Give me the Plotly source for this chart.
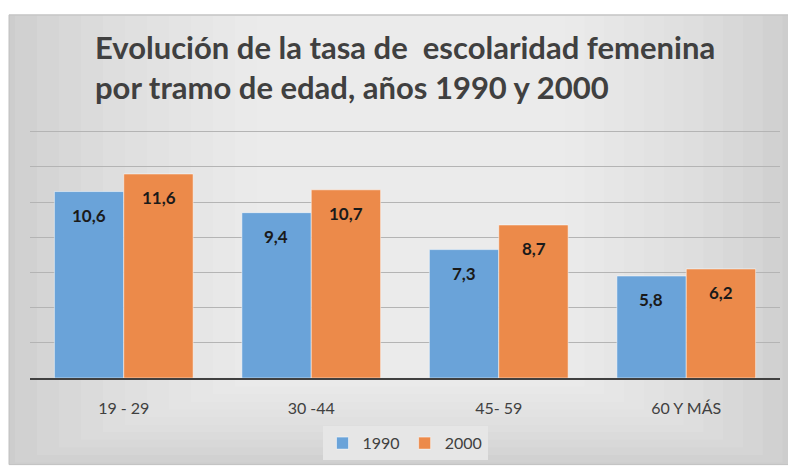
import plotly.graph_objects as go

# Data
categories = ["19 - 29", "30 -44", "45- 59", "60 Y MÁS"]
years = ["1990", "2000"]
tasa_1990 = [10.6, 9.4, 7.3, 5.8]
tasa_2000 = [11.6, 10.7, 8.7, 6.2]

colors = {"1990": "#6aa3d9", "2000": "#ec8a4a"}
series = {"1990": tasa_1990, "2000": tasa_2000}

W, H = 788, 468
L, R, T, B = 30, 8, 130, 86
plot_w = W - L - R
plot_h = H - T - B


def px_x(p):
    return (p - L) / plot_w


def px_y(p):
    return (H - B - p) / plot_h


fig = go.Figure()

for yr in years:
    fig.add_trace(
        go.Bar(
            x=categories,
            y=series[yr],
            name=yr,
            marker=dict(color=colors[yr], line=dict(color="rgba(255,255,255,0.5)", width=1)),
            hoverinfo="x+y",
        )
    )

# value labels inside bars, near the top
annotations = []
for i, yr in enumerate(years):
    shift = -35 if i == 0 else 35
    for cat, v in zip(categories, series[yr]):
        annotations.append(
            dict(
                x=cat,
                y=v,
                xref="x",
                yref="y",
                text=f"{v:.1f}".replace(".", ","),
                showarrow=False,
                xshift=shift,
                yshift=-11,
                yanchor="top",
                font=dict(family="Lato, Open Sans, sans-serif", size=17, color="#1a1a1a", weight="bold"),
            )
        )

# chart area background (soft gradient imitation, lighter at top centre)
shapes = [
    dict(type="rect", xref="paper", yref="paper",
         x0=px_x(9), x1=px_x(790), y0=px_y(470), y1=px_y(13),
         fillcolor="#cdcdcd", line=dict(color="#c0c0c0", width=1), layer="below"),
]
for k in range(12):
    dx = 6 + k * 22
    shapes.append(
        dict(type="rect", xref="paper", yref="paper",
             x0=px_x(9 + dx), x1=px_x(788 - dx * 0.9), y0=px_y(470 - dx * 0.35), y1=px_y(14),
             fillcolor="rgba(255,255,255,0.085)", line=dict(width=0), layer="below")
    )

fig.update_layout(
    width=W,
    height=H,
    margin=dict(l=L, r=R, t=T, b=B),
    paper_bgcolor="white",
    plot_bgcolor="rgba(0,0,0,0)",
    barmode="group",
    bargap=0.26,
    bargroupgap=0.0,
    font=dict(family="Lato, Open Sans, sans-serif", color="#404040"),
    title=dict(
        text="Evolución de la tasa de&nbsp; escolaridad femenina<br>por tramo de edad, años 1990 y 2000",
        x=95 / W,
        xanchor="left",
        y=1 - 59 / H,
        yanchor="top",
        font=dict(family="Lato, Open Sans, sans-serif", size=31, color="#404040", weight="bold"),
    ),
    xaxis=dict(
        showline=True,
        linecolor="#404040",
        linewidth=2,
        ticks="outside",
        ticklen=15,
        tickcolor="rgba(0,0,0,0)",
        tickfont=dict(size=16, color="#404040"),
        showgrid=False,
    ),
    yaxis=dict(
        range=[0, 14.1],
        dtick=2,
        showticklabels=False,
        showgrid=True,
        gridcolor="#b4b4b4",
        gridwidth=1,
        zeroline=False,
    ),
    legend=dict(
        orientation="h",
        x=0.5,
        xanchor="center",
        y=px_y(431),
        yanchor="top",
        bgcolor="#e6e6e6",
        font=dict(size=16, color="#404040"),
        itemwidth=30,
    ),
    shapes=shapes,
    annotations=annotations,
)

fig.write_html(
    "out.html",
    config={"displayModeBar": False},
    post_script="document.body.style.margin='0';document.body.style.overflow='hidden';",
)
